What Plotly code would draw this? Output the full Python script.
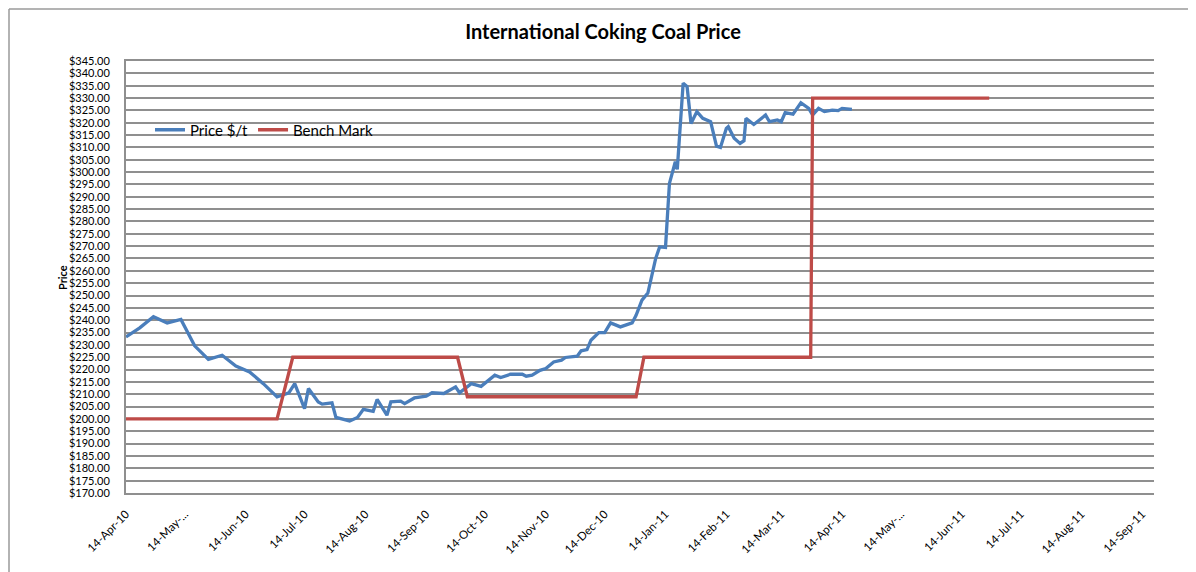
import plotly.graph_objects as go

# Price $/t series
price_dates = [
    "2010-04-14", "2010-04-21", "2010-04-28", "2010-05-05", "2010-05-12", "2010-05-19",
    "2010-05-26", "2010-06-02", "2010-06-09", "2010-06-16", "2010-06-23", "2010-06-30",
    "2010-07-06", "2010-07-09", "2010-07-14", "2010-07-16", "2010-07-21", "2010-07-23",
    "2010-07-28", "2010-07-30", "2010-08-06", "2010-08-10", "2010-08-13", "2010-08-18",
    "2010-08-20", "2010-08-25", "2010-08-27", "2010-09-01", "2010-09-03", "2010-09-08",
    "2010-09-14", "2010-09-17", "2010-09-23", "2010-09-29", "2010-10-01", "2010-10-07",
    "2010-10-12", "2010-10-19", "2010-10-22", "2010-10-27", "2010-11-02", "2010-11-04",
    "2010-11-07", "2010-11-11", "2010-11-14", "2010-11-18", "2010-11-22", "2010-11-24",
    "2010-11-30", "2010-12-02", "2010-12-05", "2010-12-07", "2010-12-11", "2010-12-14",
    "2010-12-17", "2010-12-22", "2010-12-28", "2010-12-30", "2011-01-02", "2011-01-05",
    "2011-01-09", "2011-01-11", "2011-01-14", "2011-01-16", "2011-01-19", "2011-01-20",
    "2011-01-23", "2011-01-25", "2011-01-27", "2011-01-30", "2011-02-02", "2011-02-06",
    "2011-02-09", "2011-02-11", "2011-02-14", "2011-02-15", "2011-02-18", "2011-02-21",
    "2011-02-23", "2011-02-24", "2011-02-28", "2011-03-03", "2011-03-06", "2011-03-08",
    "2011-03-12", "2011-03-14", "2011-03-16", "2011-03-20", "2011-03-24", "2011-03-28",
    "2011-03-30", "2011-04-02", "2011-04-05", "2011-04-09", "2011-04-12", "2011-04-14",
    "2011-04-19",
]
price_values = [
    233.2, 236.9, 241.4, 238.9, 240.3, 229.6,
    224.1, 225.8, 221.4, 219.0, 214.3, 208.9,
    210.6, 214.3, 204.2, 212.3, 206.9, 206.0,
    206.5, 200.6, 199.2, 200.6, 203.9, 203.1,
    207.9, 201.5, 206.9, 207.2, 206.2, 208.5,
    209.2, 210.6, 210.3, 213.0, 210.6, 214.3,
    213.2, 217.7, 216.8, 218.1, 218.1, 217.3,
    217.7, 219.7, 220.4, 223.1, 223.8, 224.9,
    225.4, 227.6, 228.1, 231.9, 235.0, 235.0,
    238.9, 237.3, 238.9, 242.0, 248.1, 251.0,
    265.0, 269.7, 269.5, 295.4, 304.2, 301.1,
    336.0, 334.6, 319.7, 324.5, 321.8, 320.4,
    310.5, 310.0, 317.7, 318.4, 313.7, 311.6,
    312.7, 321.8, 319.3, 321.1, 323.1, 320.4,
    321.1, 320.4, 324.1, 323.5, 328.1, 325.8,
    323.1, 325.8, 324.5, 325.1, 324.9, 325.8,
    325.4,
]

# Bench Mark series
bench_dates = [
    "2010-04-14", "2010-06-30", "2010-07-08", "2010-09-30", "2010-10-05",
    "2010-12-30", "2011-01-03", "2011-03-29", "2011-03-30", "2011-06-28",
]
bench_values = [200, 200, 225, 225, 209, 209, 225, 225, 330, 330]

# x axis tick labels
tick_dates = [
    "2010-04-14", "2010-05-14", "2010-06-14", "2010-07-14", "2010-08-14", "2010-09-14",
    "2010-10-14", "2010-11-14", "2010-12-14", "2011-01-14", "2011-02-14", "2011-03-14",
    "2011-04-14", "2011-05-14", "2011-06-14", "2011-07-14", "2011-08-14", "2011-09-14",
]
tick_labels = [
    "14-Apr-10", "14-May-...", "14-Jun-10", "14-Jul-10", "14-Aug-10", "14-Sep-10",
    "14-Oct-10", "14-Nov-10", "14-Dec-10", "14-Jan-11", "14-Feb-11", "14-Mar-11",
    "14-Apr-11", "14-May-...", "14-Jun-11", "14-Jul-11", "14-Aug-11", "14-Sep-11",
]

FONT = "Lato, Calibri, 'Liberation Sans', sans-serif"
GRID = "#8f8f8f"

fig = go.Figure()

fig.add_trace(go.Scatter(
    x=price_dates, y=price_values, name="Price $/t", mode="lines",
    line=dict(color="#4A7EBB", width=3.3),
))
fig.add_trace(go.Scatter(
    x=bench_dates, y=bench_values, name="Bench Mark", mode="lines",
    line=dict(color="#BE4B48", width=3.3),
))

# the page body adds an 8px offset, so the figure is drawn 8px smaller
OFF = 8
W, H = 1196 - OFF, 572 - OFF
L, R, T, B = 126 - OFF, 1154 - OFF, 61 - OFF, 493 - OFF


def px_x(px):
    return (px - OFF - L) / (R - L)


def px_y(py):
    return (B - (py - OFF)) / (B - T)


fig.update_layout(
    width=W, height=H,
    margin=dict(l=L, r=W - R, t=T, b=H - B),
    paper_bgcolor="white", plot_bgcolor="white",
    font=dict(family=FONT, color="#000000"),
    title=dict(
        text="<b>International Coking Coal Price</b>",
        x=(603 - OFF) / W, xref="container", xanchor="center",
        y=1 - (32 - OFF) / H, yref="container", yanchor="middle",
        font=dict(size=20, family=FONT, color="#000000"),
    ),
    showlegend=True,
    legend=dict(
        orientation="h", x=px_x(150), y=px_y(130), xanchor="left", yanchor="middle",
        bgcolor="rgba(0,0,0,0)", font=dict(size=15, family=FONT),
        itemwidth=30, tracegroupgap=0,
    ),
    xaxis=dict(
        type="date",
        range=["2010-04-14", "2011-09-20"],
        tickvals=tick_dates, ticktext=tick_labels,
        tickangle=-45, tickfont=dict(size=11.5, family=FONT),
        showgrid=False, zeroline=False,
        showline=True, linecolor=GRID, linewidth=2, mirror=True,
        ticks="", ticklabelstandoff=8,
    ),
    yaxis=dict(
        range=[170, 345], dtick=5, tick0=170,
        tickprefix="$", tickformat=".2f",
        tickfont=dict(size=11, family=FONT),
        showgrid=True, gridcolor=GRID, gridwidth=2,
        zeroline=False,
        showline=True, linecolor=GRID, linewidth=2,
        ticks="", ticklabelstandoff=12,
    ),
    annotations=[
        dict(
            text="<b>Price</b>", textangle=-90,
            x=px_x(62), y=px_y(278), xref="paper", yref="paper",
            xanchor="center", yanchor="middle", showarrow=False,
            font=dict(size=11, family=FONT, color="#000000"),
        )
    ],
    shapes=[
        dict(type="line", xref="paper", yref="paper",
             x0=px_x(9), x1=px_x(1200), y0=px_y(9), y1=px_y(9),
             line=dict(color="#9a9a9a", width=1.5)),
        dict(type="line", xref="paper", yref="paper",
             x0=px_x(9), x1=px_x(9), y0=px_y(9), y1=px_y(580),
             line=dict(color="#9a9a9a", width=1.5)),
    ],
)

fig.write_html("out.html")
